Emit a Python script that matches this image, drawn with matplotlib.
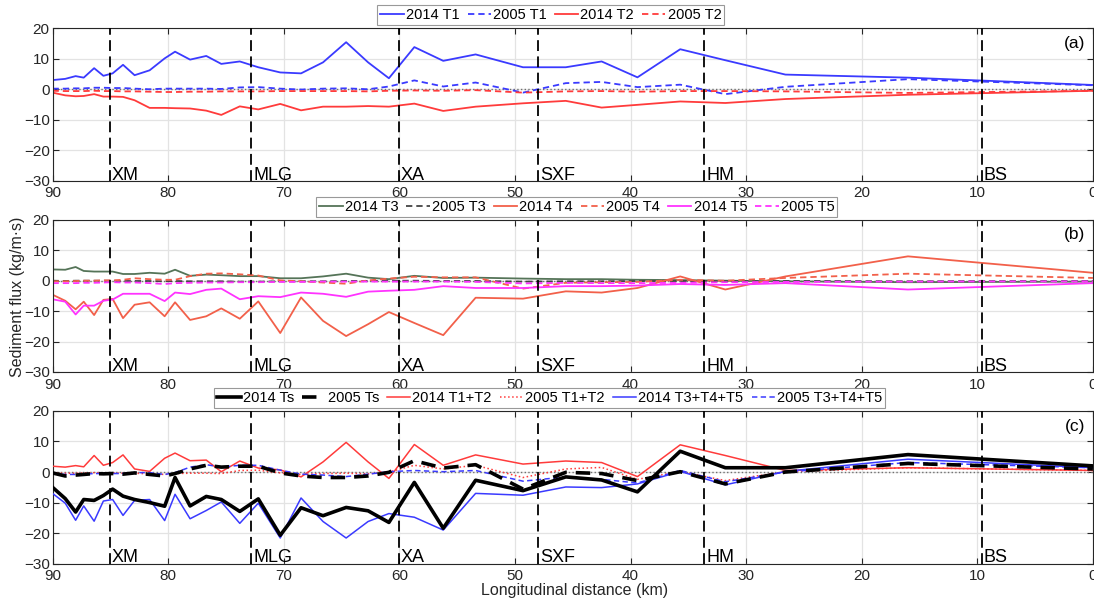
import numpy as np
import matplotlib
matplotlib.use("Agg")
import matplotlib.pyplot as plt

plt.rcParams['font.family'] = ['Liberation Sans', 'DejaVu Sans']

# longitudinal positions (km) shared by every series
x_km = [90, 88.9, 88.0, 87.3, 86.4, 85.6, 84.8, 83.9, 82.9, 81.6, 80.3, 79.4,
        78.1, 76.7, 75.4, 73.8, 72.2, 70.3, 68.5, 66.6, 64.6, 62.7, 60.9, 58.7,
        56.2, 53.4, 49.3, 45.6, 42.5, 39.4, 35.7, 31.8, 26.6, 16.0, 0.0]

# panel (a)
t1_2014 = [3.0, 3.4, 4.3, 3.8, 6.9, 4.4, 5.2, 8.0, 4.6, 6.2, 10.1, 12.3, 9.7, 10.9,
           8.3, 9.1, 7.2, 5.5, 5.2, 8.8, 15.4, 8.8, 3.6, 13.8, 9.3, 11.4, 7.2, 7.2,
           9.1, 3.9, 13.1, 9.5, 4.8, 3.8, 1.4]
t1_2005 = [0.2, 0.2, 0.3, 0.3, 0.5, 0.5, 0.4, 0.4, 0.2, 0.0, 0.2, 0.2, 0.2, 0.2,
           0.1, 0.6, 0.7, 0.2, -0.1, 0.2, 0.3, 0.0, 0.9, 2.9, 0.9, 2.2, -1.1, 2.0,
           2.4, 0.7, 1.5, -1.6, 0.8, 3.3, 1.3]
t2_2014 = [-1.1, -2.0, -2.3, -2.2, -1.6, -2.4, -2.4, -2.5, -3.6, -6.1, -6.1, -6.2,
           -6.3, -7.0, -8.4, -5.6, -6.6, -4.8, -6.9, -5.7, -5.7, -5.5, -5.7, -4.7,
           -7.1, -5.7, -4.6, -3.8, -6.0, -5.1, -4.0, -4.5, -3.2, -1.8, -0.5]
t2_2005 = [-0.5, -0.6, -0.6, -0.6, -0.5, -0.6, -0.6, -0.7, -0.7, -0.8, -0.9, -0.9,
           -0.8, -0.8, -0.7, -0.7, -0.7, -0.6, -0.6, -0.6, -0.6, -0.7, -0.5, -0.4,
           -0.5, -0.3, -1.1, -0.7, -0.6, -0.8, -0.6, -0.6, -0.7, -1.2, -0.5]

# panel (b)
t3_2014 = [3.7, 3.6, 4.5, 3.2, 3.0, 3.0, 3.0, 2.2, 2.2, 2.6, 2.3, 3.6, 1.6, 2.0,
           1.8, 1.5, 1.5, 0.8, 0.8, 1.4, 2.3, 1.0, 0.5, 1.6, 0.9, 1.0, 0.7, 0.5,
           0.5, 0.3, 0.2, 0.0, -0.2, -0.5, -0.3]
t3_2005 = [0.0, -0.1, 0.0, 0.0, 0.0, 0.0, 0.0, -0.1, -0.1, -0.1, -0.2, -0.1, -0.2,
           -0.2, -0.2, -0.3, -0.3, -0.2, -0.2, -0.2, -0.1, -0.1, 0.0, 0.0, -0.1,
           -0.1, -0.3, -0.2, -0.2, -0.1, -0.1, -0.2, -0.1, -0.2, -0.1]
t4_2014 = [-4.6, -6.6, -9.4, -6.9, -11.3, -6.3, -6.0, -12.3, -7.9, -7.1, -11.7, -7.1,
           -12.9, -11.7, -9.1, -12.5, -6.8, -17.2, -5.5, -13.2, -18.2, -14.3, -10.3,
           -13.9, -17.9, -5.6, -5.9, -3.5, -3.9, -2.4, 1.4, -2.9, 1.4, 8.0, 2.6]
t4_2005 = [-0.2, -0.2, -0.1, 0.0, 0.0, 0.1, 0.1, 0.3, 0.8, 0.5, 0.3, 0.3, 1.5, 2.3,
           2.4, 2.1, 1.7, 0.1, -0.2, -0.6, -1.0, 0.1, 0.7, 1.3, 1.1, 1.1, -2.6, -0.7,
           -0.5, -0.4, 0.3, 0.0, 0.9, 2.3, 0.9]
t5_2014 = [-6.1, -6.9, -11.1, -8.2, -8.2, -6.6, -6.2, -4.3, -4.3, -4.3, -6.7, -3.9,
           -4.4, -3.0, -2.6, -6.1, -5.1, -5.4, -3.9, -4.3, -5.3, -3.6, -3.3, -3.0,
           -1.8, -2.4, -2.4, -1.8, -1.8, -1.6, -1.1, -1.4, -0.8, -2.9, -0.8]
t5_2005 = [-0.8, -0.8, -0.8, -0.7, -0.7, -0.6, -0.5, -0.6, -0.6, -0.8, -1.1, -0.8,
           -0.7, -0.6, -0.6, -0.5, -0.5, -0.4, -0.4, -0.3, -0.3, -0.3, -0.3, -0.3,
           -0.3, -0.4, -0.9, -0.7, -0.8, -0.8, -0.7, -0.5, -0.4, -0.3, -0.2]

# panel (c)
ts_2014 = [-5.0, -8.7, -13.1, -9.0, -9.3, -7.7, -5.6, -7.9, -9.0, -10.0, -11.2, -1.8,
           -11.1, -8.0, -9.0, -12.9, -8.8, -20.7, -11.7, -14.3, -11.6, -12.7, -16.5,
           -3.4, -18.4, -2.7, -6.1, -1.6, -2.6, -6.5, 6.8, 1.4, 1.4, 5.7, 2.0]
ts_2005 = [-0.3, -1.3, -1.0, -0.8, -0.5, -0.6, -0.5, -0.7, -0.3, -0.8, -1.3, -0.5,
           1.0, 2.2, 1.6, 1.9, 1.9, -0.3, -1.3, -1.8, -1.8, -1.3, -0.1, 3.7, 1.3,
           2.4, -5.6, -0.1, -0.5, -2.8, 0.1, -3.9, 0.0, 2.8, 1.0]
t12_2014 = [1.9, 1.6, 2.1, 1.7, 5.4, 2.2, 3.1, 5.6, 1.0, 0.2, 4.5, 6.2, 3.7, 3.9,
            0.1, 3.6, 1.3, 0.7, -1.6, 3.3, 9.7, 3.3, -2.1, 9.0, 2.2, 5.6, 2.6, 3.6,
            3.1, -1.5, 8.9, 5.4, 0.5, 1.4, 0.5]
t12_2005 = [-0.3, -0.4, -0.4, -0.3, -0.2, -0.3, -0.3, -0.4, -0.4, -0.6, -0.8, -0.5,
            -0.4, -0.4, -0.5, 0.5, 0.6, -0.3, -0.8, -0.5, -0.4, -0.6, 0.0, 2.2, 1.0,
            2.2, -1.8, 1.0, 1.5, -2.4, 0.2, -2.8, 0.1, 1.4, 0.5]
t345_2014 = [-7.0, -10.2, -15.8, -11.1, -16.1, -9.5, -9.0, -14.2, -9.3, -9.0, -15.9,
             -7.3, -15.3, -12.6, -9.8, -16.8, -10.2, -21.6, -8.5, -16.2, -21.6, -16.2,
             -13.6, -14.8, -19.0, -7.0, -7.6, -4.9, -5.1, -3.9, 0.2, -4.2, 0.2, 4.2, 1.4]
t345_2005 = [-0.5, -0.8, -0.8, -0.7, -0.5, -0.5, -0.5, -0.5, -0.2, -0.2, -0.8, -0.2,
             1.6, 2.4, 1.6, 2.2, 2.2, 0.6, -0.7, -1.0, -1.5, -0.7, 0.1, 0.5, 0.1, 0.5,
             -3.0, -1.6, -2.4, -3.6, 0.5, -3.2, 0.0, 3.1, 1.4]

stations = ['XM', 'MLG', 'XA', 'SXF', 'HM', 'BS']
station_km = [85, 72.8, 60, 48, 33.6, 9.6]

blue = '#3a3aff'
red = '#ff3b3b'
green = '#557458'
tomato = '#f2604a'
magenta = '#ff33ff'
dash = (0, (3.5, 2.2))

fig = plt.figure(figsize=(10.94, 5.99), dpi=100)
ax_a = fig.add_axes([0.048, 0.698, 0.951, 0.255])
ax_b = fig.add_axes([0.048, 0.379, 0.951, 0.254])
ax_c = fig.add_axes([0.048, 0.059, 0.951, 0.255])


def setup(ax, tag):
    ax.set_xlim(90, 0)
    ax.set_ylim(-30, 20)
    ax.set_xticks(range(90, -1, -10))
    ax.set_yticks(range(-30, 21, 10))
    ax.grid(True, color='#e3e3e3', lw=0.9)
    ax.set_axisbelow(True)
    ax.tick_params(direction='in', top=True, right=True, labelsize=11,
                   colors='#262626', length=4)
    ax.tick_params(axis='x', pad=4)
    ax.tick_params(axis='y', pad=2)
    for s in ax.spines.values():
        s.set_color('#262626')
        s.set_linewidth(0.8)
    ax.axhline(0, color='#707070', ls=':', lw=1.0, zorder=1)
    for name, km in zip(stations, station_km):
        ax.axvline(km, color='k', ls=(0, (6, 3)), lw=1.3, zorder=5)
        ax.text(km - 0.15, -29.6, name, fontsize=13, ha='left', va='baseline')
    ax.text(0.993, 0.95, tag, transform=ax.transAxes, ha='right', va='top',
            fontsize=12.5)


leg_kw = dict(loc='lower center', frameon=True, fancybox=False, edgecolor='#808080',
              fontsize=10.5, handlelength=1.6, handletextpad=0.15, columnspacing=0.55,
              borderpad=0.2, borderaxespad=0)

# (a)
setup(ax_a, '(a)')
ax_a.plot(x_km, t1_2014, color=blue, lw=1.3, label='2014 T1')
ax_a.plot(x_km, t1_2005, color=blue, lw=1.3, ls=dash, label='2005 T1')
ax_a.plot(x_km, t2_2014, color=red, lw=1.3, label='2014 T2')
ax_a.plot(x_km, t2_2005, color=red, lw=1.3, ls=dash, label='2005 T2')
leg = ax_a.legend(ncol=4, bbox_to_anchor=(0.479, 1.02), **leg_kw)
leg.get_frame().set_linewidth(0.8)

# (b)
setup(ax_b, '(b)')
ax_b.plot(x_km, t3_2014, color=green, lw=1.3, label='2014 T3')
ax_b.plot(x_km, t3_2005, color='#444444', lw=1.3, ls=dash, label='2005 T3')
ax_b.plot(x_km, t4_2014, color=tomato, lw=1.3, label='2014 T4')
ax_b.plot(x_km, t4_2005, color=tomato, lw=1.3, ls=dash, label='2005 T4')
ax_b.plot(x_km, t5_2014, color=magenta, lw=1.3, label='2014 T5')
ax_b.plot(x_km, t5_2005, color=magenta, lw=1.3, ls=dash, label='2005 T5')
leg = ax_b.legend(ncol=6, bbox_to_anchor=(0.504, 1.02), **leg_kw)
leg.get_frame().set_linewidth(0.8)

# (c)
setup(ax_c, '(c)')
ax_c.plot(x_km, ts_2014, color='k', lw=2.6, label='2014 Ts', zorder=4)
ax_c.plot(x_km, ts_2005, color='k', lw=2.6, ls=(0, (4, 2.5)), label='2005 Ts', zorder=4)
ax_c.plot(x_km, t12_2014, color=red, lw=1.1, label='2014 T1+T2', zorder=3)
ax_c.plot(x_km, t12_2005, color=red, lw=1.1, ls=':', label='2005 T1+T2', zorder=3)
ax_c.plot(x_km, t345_2014, color=blue, lw=1.1, label='2014 T3+T4+T5', zorder=3)
ax_c.plot(x_km, t345_2005, color=blue, lw=1.1, ls=dash, label='2005 T3+T4+T5', zorder=3)
leg = ax_c.legend(ncol=6, bbox_to_anchor=(0.478, 1.02), **leg_kw)
leg.get_frame().set_linewidth(0.8)

fig.text(0.016, 0.505, 'Sediment flux (kg/m·s)', rotation=90, ha='center',
         va='center', fontsize=11.5, color='#262626')
fig.text(0.525, 0.001, 'Longitudinal distance (km)', ha='center', va='bottom',
         fontsize=11.5, color='#262626')

fig.savefig('out.png', dpi=100)
